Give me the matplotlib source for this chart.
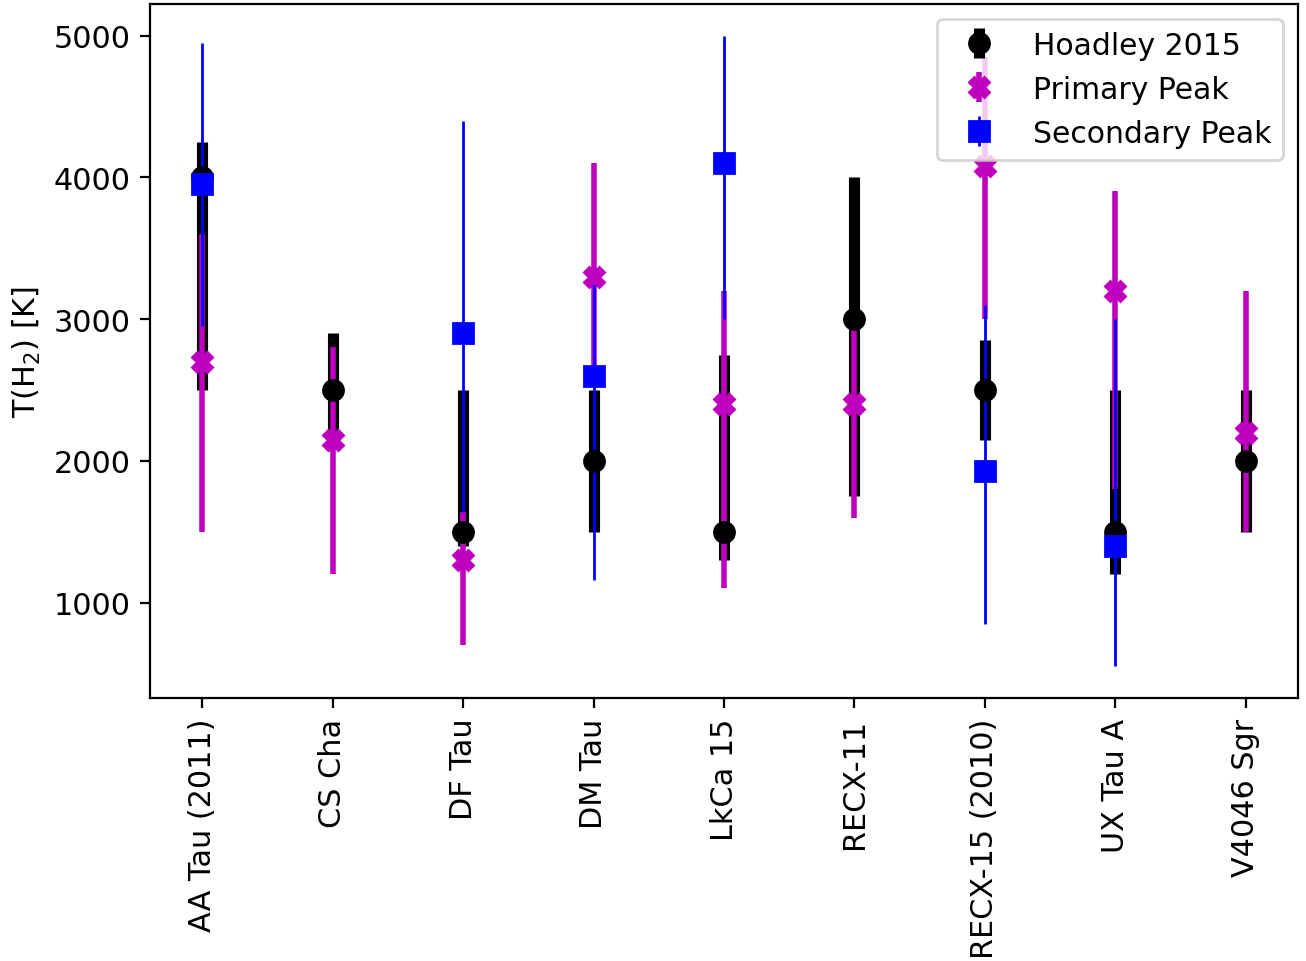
import numpy as np
import matplotlib
matplotlib.use("Agg")
import matplotlib.pyplot as plt

nan = np.nan

names = ['AA Tau (2011)', 'CS Cha', 'DF Tau', 'DM Tau', 'LkCa 15',
         'RECX-11', 'RECX-15 (2010)', 'UX Tau A', 'V4046 Sgr']

# Hoadley 2015 temperatures and (lower, upper) errors
hoadley = [4000, 2500, 1500, 2000, 1500, 3000, 2500, 1500, 2000]
hoadley_lo = [1500, 300, 100, 500, 200, 1250, 350, 300, 500]
hoadley_hi = [250, 400, 1000, 500, 1250, 1000, 350, 1000, 500]

# primary peak of the fit
primary = [2700, 2150, 1300, 3300, 2400, 2400, 4080, 3200, 2200]
primary_lo = [1200, 950, 600, 700, 1300, 800, 1080, 1400, 700]
primary_hi = [900, 650, 340, 800, 800, 550, 770, 700, 1000]

# secondary peak, only where there is one
secondary = [3950, nan, 2900, 2600, 4100, nan, 1930, 1400, nan]
secondary_lo = [1000, nan, 1260, 1440, 1100, nan, 1080, 850, nan]
secondary_hi = [1000, nan, 1500, 650, 900, nan, 1170, 1600, nan]

plt.rcParams['font.size'] = 10.9

fig = plt.figure(figsize=(6.53, 4.81), dpi=200)
ax = fig.add_axes([0.1149, 0.2734, 0.879, 0.7214])

x = np.arange(len(names))

ax.errorbar(x, hoadley, yerr=[hoadley_lo, hoadley_hi], fmt='o', color='k',
            elinewidth=4, ms=7.2, label='Hoadley 2015')
ax.errorbar(x, primary, yerr=[primary_lo, primary_hi], fmt='X', color='m',
            elinewidth=2, ms=7.5, label='Primary Peak')
ax.errorbar(x, secondary, yerr=[secondary_lo, secondary_hi], fmt='s', color='b',
            elinewidth=1, ms=7.2, label='Secondary Peak')

ax.set_xticks(x)
ax.set_xticklabels(names, rotation=90)
ax.set_ylabel('T(H$_2$) [K]')
ax.legend(loc='upper right', fontsize=10.75)

fig.savefig('out.png', dpi=200)
